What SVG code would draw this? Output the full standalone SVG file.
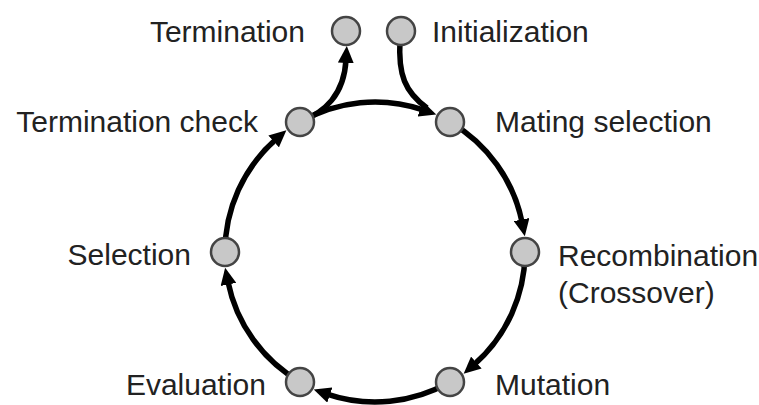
<svg xmlns="http://www.w3.org/2000/svg" width="759" height="405" viewBox="0 0 759 405">
  <style>
    .lbl { font-family: "Liberation Sans", Arial, sans-serif; font-size: 30px; fill: #222; }
    .edge { fill: none; stroke: #000; stroke-width: 5.5; stroke-linecap: butt; }
    .node { fill: #c8c8c8; stroke: #444; stroke-width: 2.5; }
  </style>
  <defs>
    <marker id="arr" markerUnits="userSpaceOnUse" markerWidth="17" markerHeight="16" refX="3" refY="8" orient="auto">
      <path d="M0,0 L17,8 L0,16 z" fill="#000"/>
    </marker>
  </defs>
  <rect width="759" height="405" fill="#fff"/>
  <g id="connectors">
    <path class="edge" d="M450,122.1 A150,150 0 0 1 522.1,222.5" marker-end="url(#arr)"/>
    <path class="edge" d="M525,252 A150,150 0 0 1 474.1,364.6" marker-end="url(#arr)"/>
    <path class="edge" d="M450,381.9 A150,150 0 0 1 327.0,394.1" marker-end="url(#arr)"/>
    <path class="edge" d="M300,381.9 A150,150 0 0 1 227.9,281.5" marker-end="url(#arr)"/>
    <path class="edge" d="M225,252 A150,150 0 0 1 275.9,139.4" marker-end="url(#arr)"/>
    <path class="edge" d="M300,122.1 A150,150 0 0 1 423.0,109.9" marker-end="url(#arr)"/>
    <path class="edge" d="M300,122 C325,112 344,95 346,60" marker-end="url(#arr)"/>
    <path class="edge" d="M400,40 C398,75 405,92 427,108"/>
  </g>
  <g id="termination">
    <circle class="node" cx="346" cy="31" r="14"/>
    <text class="lbl" x="305" y="42" text-anchor="end">Termination</text>
  </g>
  <g id="initialization">
    <circle class="node" cx="401" cy="31" r="14"/>
    <text class="lbl" x="432" y="42">Initialization</text>
  </g>
  <g id="termination-check">
    <circle class="node" cx="300" cy="122" r="14"/>
    <text class="lbl" x="258" y="132" text-anchor="end">Termination check</text>
  </g>
  <g id="mating-selection">
    <circle class="node" cx="450" cy="122" r="14"/>
    <text class="lbl" x="495" y="132">Mating selection</text>
  </g>
  <g id="selection">
    <circle class="node" cx="225" cy="252" r="14"/>
    <text class="lbl" x="191" y="265" text-anchor="end">Selection</text>
  </g>
  <g id="recombination">
    <circle class="node" cx="525" cy="252" r="14"/>
    <text class="lbl" x="558" y="266">Recombination</text>
    <text class="lbl" x="558" y="303">(Crossover)</text>
  </g>
  <g id="evaluation">
    <circle class="node" cx="300" cy="382" r="14"/>
    <text class="lbl" x="266" y="395" text-anchor="end">Evaluation</text>
  </g>
  <g id="mutation">
    <circle class="node" cx="450" cy="382" r="14"/>
    <text class="lbl" x="495" y="395">Mutation</text>
  </g>
</svg>
